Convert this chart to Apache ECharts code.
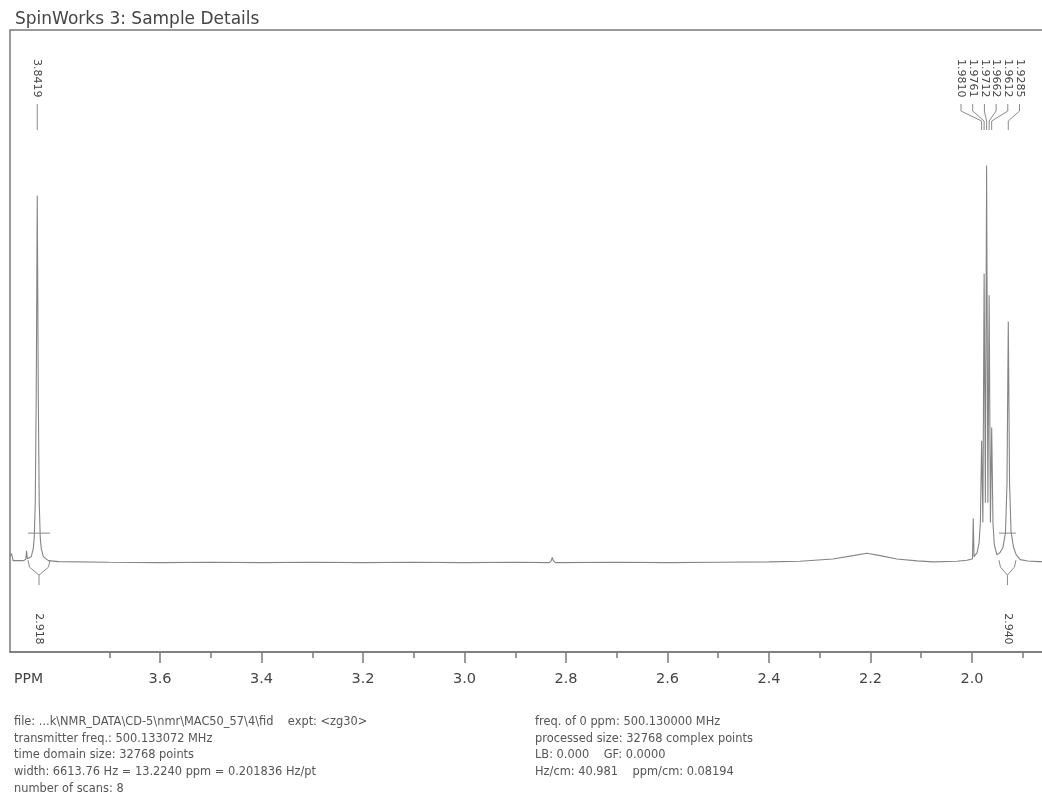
<!DOCTYPE html>
<html><head><meta charset="utf-8">
<script src="https://cdn.jsdelivr.net/npm/echarts@6/dist/echarts.min.js"></script>
<style>html,body{margin:0;padding:0;background:#fff;overflow:hidden}#chart{width:1042px;height:798px}</style>
</head><body><div id="chart"></div>
<script>
// ---- data ----
const spectrumPpm = [
  3.8956, 3.8925, 3.8895, 3.8700, 3.8645, 3.8630, 3.8615, 3.8580, 3.8537, 3.8498,
  3.8478, 3.8458, 3.8439, 3.8419, 3.8399, 3.8380, 3.8360, 3.8340, 3.8300, 3.8200,
  3.8000, 3.7000, 3.6000, 3.5000, 3.4000, 3.3000, 3.2000, 3.1000, 3.0000, 2.9000,
  2.8330, 2.8290, 2.8270, 2.8250, 2.8210, 2.7000, 2.6000, 2.5000, 2.4000, 2.3390,
  2.2740, 2.2340, 2.2070, 2.1810, 2.1480, 2.1080, 2.0770, 2.0300, 2.0100, 2.0050,
  1.9990, 1.9975, 1.9960, 1.9930, 1.9900, 1.9860, 1.9835, 1.9810, 1.97855, 1.9761,
  1.97365, 1.9712, 1.9687, 1.9662, 1.9637, 1.9612, 1.9587, 1.9560, 1.9510, 1.9450,
  1.9390, 1.9340, 1.9310, 1.9285, 1.9260, 1.9230, 1.9180, 1.9130, 1.9050, 1.8900,
  1.8700, 1.8522
];
const spectrumIntensity = [
  1.5, 2.3, 0.5, 0.5, 0.8, 3.0, 1.0, 0.8, 1.5, 3.5,
  6.3, 15.1, 42.8, 92.4, 42.8, 15.1, 6.3, 3.5, 1.5, 0.5,
  0.25, 0.1, 0.0, 0.1, 0.0, 0.1, 0.0, 0.1, 0.0, 0.1,
  0.0, 0.5, 1.3, 0.5, 0.0, 0.1, 0.0, 0.1, 0.2, 0.35,
  0.93, 1.76, 2.37, 1.76, 0.93, 0.45, 0.2, 0.35, 0.6, 0.75,
  1.0, 11.1, 1.5, 1.8, 2.5, 5.0, 10.1, 30.7, 10.1, 72.8,
  15.1, 100, 15.1, 67.3, 10.1, 34.0, 10.1, 4.5, 2.0, 2.5,
  3.8, 7.6, 20.2, 60.7, 20.2, 7.6, 3.8, 2.0, 0.75, 0.4,
  0.25, 0.25
];
const peakLabelPpm = [3.8419, 1.9810, 1.9761, 1.9712, 1.9662, 1.9612, 1.9285];
const integralStartPpm = [3.8601, 1.9469];
const integralEndPpm = [3.8168, 1.9134];
const integralValues = [2.918, 2.940];
const majorTickPpm = [3.6, 3.4, 3.2, 3.0, 2.8, 2.6, 2.4, 2.2, 2.0];
const minorTickPpm = [3.7, 3.5, 3.3, 3.1, 2.9, 2.7, 2.5, 2.3, 2.1, 1.9];
const titleText = 'SpinWorks 3: Sample Details';
const axisName = 'PPM';
const footerLeft = [
  'file: ...k\\NMR_DATA\\CD-5\\nmr\\MAC50_57\\4\\fid    expt: <zg30>',
  'transmitter freq.: 500.133072 MHz',
  'time domain size: 32768 points',
  'width: 6613.76 Hz = 13.2240 ppm = 0.201836 Hz/pt',
  'number of scans: 8'
];
const footerRight = [
  'freq. of 0 ppm: 500.130000 MHz',
  'processed size: 32768 complex points',
  'LB: 0.000    GF: 0.0000',
  'Hz/cm: 40.981    ppm/cm: 0.08194'
];

// ---- view settings ----
const X_MAX = 3.8956, X_MIN = 1.8522, Y_MIN = -22.5, Y_MAX = 134.1;
const FONT = '"DejaVu Sans", Verdana, sans-serif';
const LINE = '#858585';
const FRAME = '#7a7a7a';

const spectrum = spectrumPpm.map((p, i) => [p, spectrumIntensity[i]]);

function layoutLabels(api) {
  const xs = peakLabelPpm.map(p => api.coord([p, 0])[0]);
  const order = xs.map((x, i) => i).sort((a, b) => xs[a] - xs[b]);
  const SP = 11.7;
  const span = g => {
    const c = g.reduce((s, i) => s + xs[i], 0) / g.length;
    const half = (g.length - 1) * SP / 2;
    return [c - half, c + half];
  };
  let groups = order.map(i => [i]);
  let merged = true;
  while (merged) {
    merged = false;
    for (let k = 0; k < groups.length - 1; k++) {
      const a = span(groups[k]), b = span(groups[k + 1]);
      if (b[0] - a[1] < SP) {
        groups[k] = groups[k].concat(groups[k + 1]);
        groups.splice(k + 1, 1);
        merged = true;
        break;
      }
    }
  }
  const labelX = new Array(xs.length);
  groups.forEach(g => { const s = span(g); g.forEach((i, j) => { labelX[i] = s[0] + j * SP; }); });
  return { xs, labelX };
}

const chart = echarts.init(document.getElementById('chart'), null, { renderer: 'canvas' });
const textStyleFooter = { fill: '#555', fontSize: 11.4, fontFamily: FONT, align: 'left', verticalAlign: 'middle' };
const graphics = [
  { type: 'text', x: 15, y: 20, style: { text: titleText, fill: '#444', fontSize: 17, fontFamily: FONT, align: 'left', verticalAlign: 'middle' } },
  { type: 'text', x: 14, y: 679, style: { text: axisName, fill: '#444', fontSize: 14, fontFamily: FONT, align: 'left', verticalAlign: 'middle' } }
];
footerLeft.forEach((t, i) => graphics.push({ type: 'text', x: 14, y: 721.7 + i * 16.9, style: Object.assign({ text: t }, textStyleFooter) }));
footerRight.forEach((t, i) => graphics.push({ type: 'text', x: 535, y: 721.7 + i * 16.9, style: Object.assign({ text: t }, textStyleFooter) }));

chart.setOption({
  animation: false,
  backgroundColor: '#ffffff',
  grid: { left: 10, top: 30, width: 1037, height: 622, show: true, borderColor: FRAME, borderWidth: 1.5, containLabel: false, outerBoundsMode: 'none' },
  xAxis: [
    {
      type: 'value', inverse: true, min: X_MIN, max: X_MAX, position: 'bottom',
      axisLine: { show: true, onZero: false, lineStyle: { color: FRAME, width: 1.5 } },
      axisTick: { show: true, customValues: majorTickPpm, length: 11, lineStyle: { color: FRAME, width: 1.5 } },
      axisLabel: { show: true, customValues: majorTickPpm, formatter: v => Number(v).toFixed(1), margin: 20, fontSize: 14.5, color: '#444', fontFamily: FONT },
      splitLine: { show: false }
    },
    {
      type: 'value', inverse: true, min: X_MIN, max: X_MAX, position: 'bottom',
      axisLine: { show: false, onZero: false },
      axisTick: { show: true, customValues: minorTickPpm, length: 6, lineStyle: { color: FRAME, width: 1.5 } },
      axisLabel: { show: false },
      splitLine: { show: false }
    }
  ],
  yAxis: { type: 'value', min: Y_MIN, max: Y_MAX, show: false, splitLine: { show: false } },
  graphic: { elements: graphics },
  series: [
    {
      type: 'line', data: spectrum, xAxisIndex: 0, showSymbol: false, symbol: 'none',
      lineStyle: { color: LINE, width: 1.1 }, clip: true, silent: true, z: 3
    },
    {
      type: 'custom', xAxisIndex: 0, data: peakLabelPpm.map(p => [p, 0]), silent: true, z: 4,
      renderItem: function (params, api) {
        const L = layoutLabels(api);
        const i = params.dataIndex;
        const px = L.xs[i], lx = L.labelX[i];
        return {
          type: 'group', children: [
            { type: 'text', x: lx, y: 59, rotation: -Math.PI / 2,
              style: { text: peakLabelPpm[i].toFixed(4), fill: '#444', fontSize: 11, fontFamily: FONT, align: 'left', verticalAlign: 'middle' } },
            { type: 'polyline', shape: { points: [[lx, 104], [lx, 111], [px, 121], [px, 130]] },
              style: { stroke: '#8a8a8a', lineWidth: 1, fill: null } }
          ]
        };
      }
    },
    {
      type: 'custom', xAxisIndex: 0, data: integralStartPpm.map(p => [p, 0]), silent: true, z: 4,
      renderItem: function (params, api) {
        const i = params.dataIndex;
        const pl = api.coord([integralStartPpm[i], 0]);
        const pr = api.coord([integralEndPpm[i], 0]);
        const xl = pl[0], xr = pr[0], y0 = pl[1], xc = (xl + xr) / 2;
        const st = { stroke: '#8a8a8a', lineWidth: 1, fill: null };
        return {
          type: 'group', children: [
            { type: 'polyline', shape: { points: [[xl, y0 - 2.5], [xl + 1.5, y0 + 4.5], [xc, y0 + 12.5], [xr - 1.5, y0 + 4.5], [xr, y0 - 2.5]] }, style: st },
            { type: 'line', shape: { x1: xc, y1: y0 + 12.5, x2: xc, y2: y0 + 22.5 }, style: st },
            { type: 'line', shape: { x1: xl, y1: y0 - 29.5, x2: xr, y2: y0 - 29.5 }, style: st },
            { type: 'text', x: xc, y: y0 + 50.5, rotation: -Math.PI / 2,
              style: { text: integralValues[i].toFixed(3), fill: '#444', fontSize: 11, fontFamily: FONT, align: 'left', verticalAlign: 'middle' } }
          ]
        };
      }
    }
  ]
});
</script></body></html>
